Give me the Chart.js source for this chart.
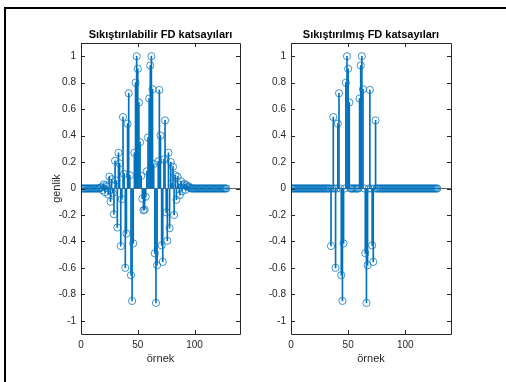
<!DOCTYPE html>
<html>
<head>
<meta charset="utf-8">
<script src="https://cdn.jsdelivr.net/npm/chart.js@4.4.0/dist/chart.umd.min.js"></script>
<style>
  html, body { margin: 0; padding: 0; background: #fff; }
  body { width: 506px; height: 382px; position: relative; overflow: hidden; }
  #frame { position: absolute; left: 4px; top: 7px; width: 502px; height: 375px;
           border-top: 2px solid #000; border-left: 2px solid #000; box-sizing: border-box; }
  canvas { position: absolute; top: 0; }
  #c1 { left: 0; }
  #c2 { left: 253px; }
</style>
</head>
<body>
<div id="frame"></div>
<canvas id="c1" width="253" height="382"></canvas>
<canvas id="c2" width="253" height="382"></canvas>
<script>
// sample index 1..128
const samples = Array.from({ length: 128 }, (_, i) => i + 1);

// compressible coefficients
const fdValues = [
  0, 0, 0, 0, 0, 0, 0, 0, 0, 0, 0, 0, 0, 0, 0, 0,            // 1-16
  0.005, 0.01, -0.013, 0.03, -0.028, 0.025, 0.015, -0.045,   // 17-24
  0.09, -0.10, 0.07, -0.035, -0.195, 0.21, 0.06, -0.295,     // 25-32
  0.27, 0.19, -0.435, -0.08, 0.54, 0.11, -0.60, -0.34,       // 33-40
  0.49, 0.72, 0.10, -0.655, -0.85, -0.415, 0.27, 0.80,       // 41-48
  1.0, 0.905, 0.65, 0.35, 0.095, -0.077, -0.165, -0.16,      // 49-56
  -0.062, 0.13, 0.385, 0.68, 0.93, 1.0, 0.75, 0.185,         // 57-64
  -0.49, -0.865, -0.58, 0.205, 0.745, 0.40, -0.43, -0.555,   // 65-72
  0.22, 0.515, -0.18, -0.395, 0.27, -0.30, 0.20, 0.04,       // 73-80
  0.165, -0.20, 0.10, -0.085, 0.09, 0.03, -0.05, 0.055,      // 81-88
  -0.02, 0.025, 0.035, -0.01, 0.025, 0.01, 0.015, 0.005,     // 89-96
  0, 0, 0, 0, 0, 0, 0, 0, 0, 0, 0, 0, 0, 0, 0, 0,            // 97-112
  0, 0, 0, 0, 0, 0, 0, 0, 0, 0, 0, 0, 0, 0, 0, 0             // 113-128
];

// samples that survive in the compressed panel
const keptSamples = [35, 37, 39, 41, 42, 44, 45, 46, 48, 49, 50, 51,
                     60, 61, 62, 63, 65, 66, 67, 69, 71, 72, 74];
const compValues = samples.map(n => keptSamples.includes(n) ? fdValues[n - 1] : 0);

const xTicks = [0, 50, 100];
const yTicks = [-1, -0.8, -0.6, -0.4, -0.2, 0, 0.2, 0.4, 0.6, 0.8, 1];

const stemColor = '#0072BD';
const markerColor = 'rgba(0,114,189,0.75)';
const axisColor = '#262626';

// box around the axes + inward tick marks, like MATLAB
const boxPlugin = {
  id: 'matlabBox',
  afterDatasetsDraw(chart) {
    const { ctx, chartArea: a, scales: { x, y } } = chart;
    ctx.save();
    ctx.strokeStyle = axisColor;
    ctx.lineWidth = 1;
    ctx.beginPath();
    ctx.rect(a.left + 0.5, a.top + 0.5, a.right - a.left, a.bottom - a.top);
    x.ticks.forEach(t => {
      const px = Math.round(x.getPixelForValue(t.value)) + 0.5;
      ctx.moveTo(px, a.bottom); ctx.lineTo(px, a.bottom - 4);
      ctx.moveTo(px, a.top); ctx.lineTo(px, a.top + 4);
    });
    y.ticks.forEach(t => {
      const py = Math.round(y.getPixelForValue(t.value)) + 0.5;
      ctx.moveTo(a.left, py); ctx.lineTo(a.left + 4, py);
      ctx.moveTo(a.right, py); ctx.lineTo(a.right - 4, py);
    });
    ctx.stroke();
    ctx.restore();
  }
};

function makeStem(canvasId, title, values, yAxisWidth, rightPad, showYLabel) {
  const pts = samples.map((n, i) => ({ x: n, y: values[i] }));
  return new Chart(document.getElementById(canvasId), {
    type: 'bar',
    data: {
      datasets: [
        {
          type: 'line',
          data: pts,
          showLine: false,
          pointStyle: 'circle',
          pointRadius: 3.6,
          pointBorderWidth: 1,
          pointBorderColor: markerColor,
          pointBackgroundColor: 'rgba(0,0,0,0)',
          order: 1
        },
        {
          type: 'bar',
          data: pts,
          backgroundColor: stemColor,
          barThickness: 1,
          order: 2
        }
      ]
    },
    options: {
      responsive: false,
      animation: false,
      layout: { padding: { left: 0, right: rightPad, top: 0, bottom: 0 } },
      plugins: {
        legend: { display: false },
        tooltip: { enabled: false },
        title: {
          display: true,
          text: title,
          fullSize: false,
          color: '#000',
          font: { family: 'Liberation Sans, Arial, sans-serif', size: 11, weight: 'bold' },
          padding: { top: 28, bottom: 1.8 }
        }
      },
      scales: {
        x: {
          type: 'linear',
          min: 0,
          max: 140,
          offset: false,
          afterFit: s => { s.height = 48; },
          afterBuildTicks: s => { s.ticks = xTicks.map(v => ({ value: v })); },
          grid: { display: false, drawTicks: false },
          border: { display: false },
          ticks: {
            color: axisColor, padding: 5, maxRotation: 0, autoSkip: false,
            font: { family: 'Liberation Sans, Arial, sans-serif', size: 10 }
          },
          title: {
            display: true, text: 'örnek', color: axisColor,
            font: { family: 'Liberation Sans, Arial, sans-serif', size: 11 },
            padding: { top: 0, bottom: 16.4 }
          }
        },
        y: {
          min: -1.1,
          max: 1.1,
          afterFit: s => { s.width = yAxisWidth; },
          afterBuildTicks: s => { s.ticks = yTicks.map(v => ({ value: v })); },
          grid: {
            drawTicks: false,
            color: c => (c.tick && c.tick.value === 0) ? '#6a6a6a' : 'rgba(0,0,0,0)'
          },
          border: { display: false },
          ticks: {
            color: axisColor, padding: 5, autoSkip: false,
            font: { family: 'Liberation Sans, Arial, sans-serif', size: 10 },
            callback: v => String(Math.round(v * 10) / 10)
          },
          title: {
            display: showYLabel, text: 'genlik', color: axisColor,
            font: { family: 'Liberation Sans, Arial, sans-serif', size: 11 },
            padding: { top: 50.4, bottom: 0 }
          }
        }
      }
    },
    plugins: [boxPlugin]
  });
}

makeStem('c1', 'Sıkıştırılabilir FD katsayıları', fdValues, 81, 13, true);
makeStem('c2', 'Sıkıştırılmış FD katsayıları', compValues, 38, 55, false);
</script>
</body>
</html>
